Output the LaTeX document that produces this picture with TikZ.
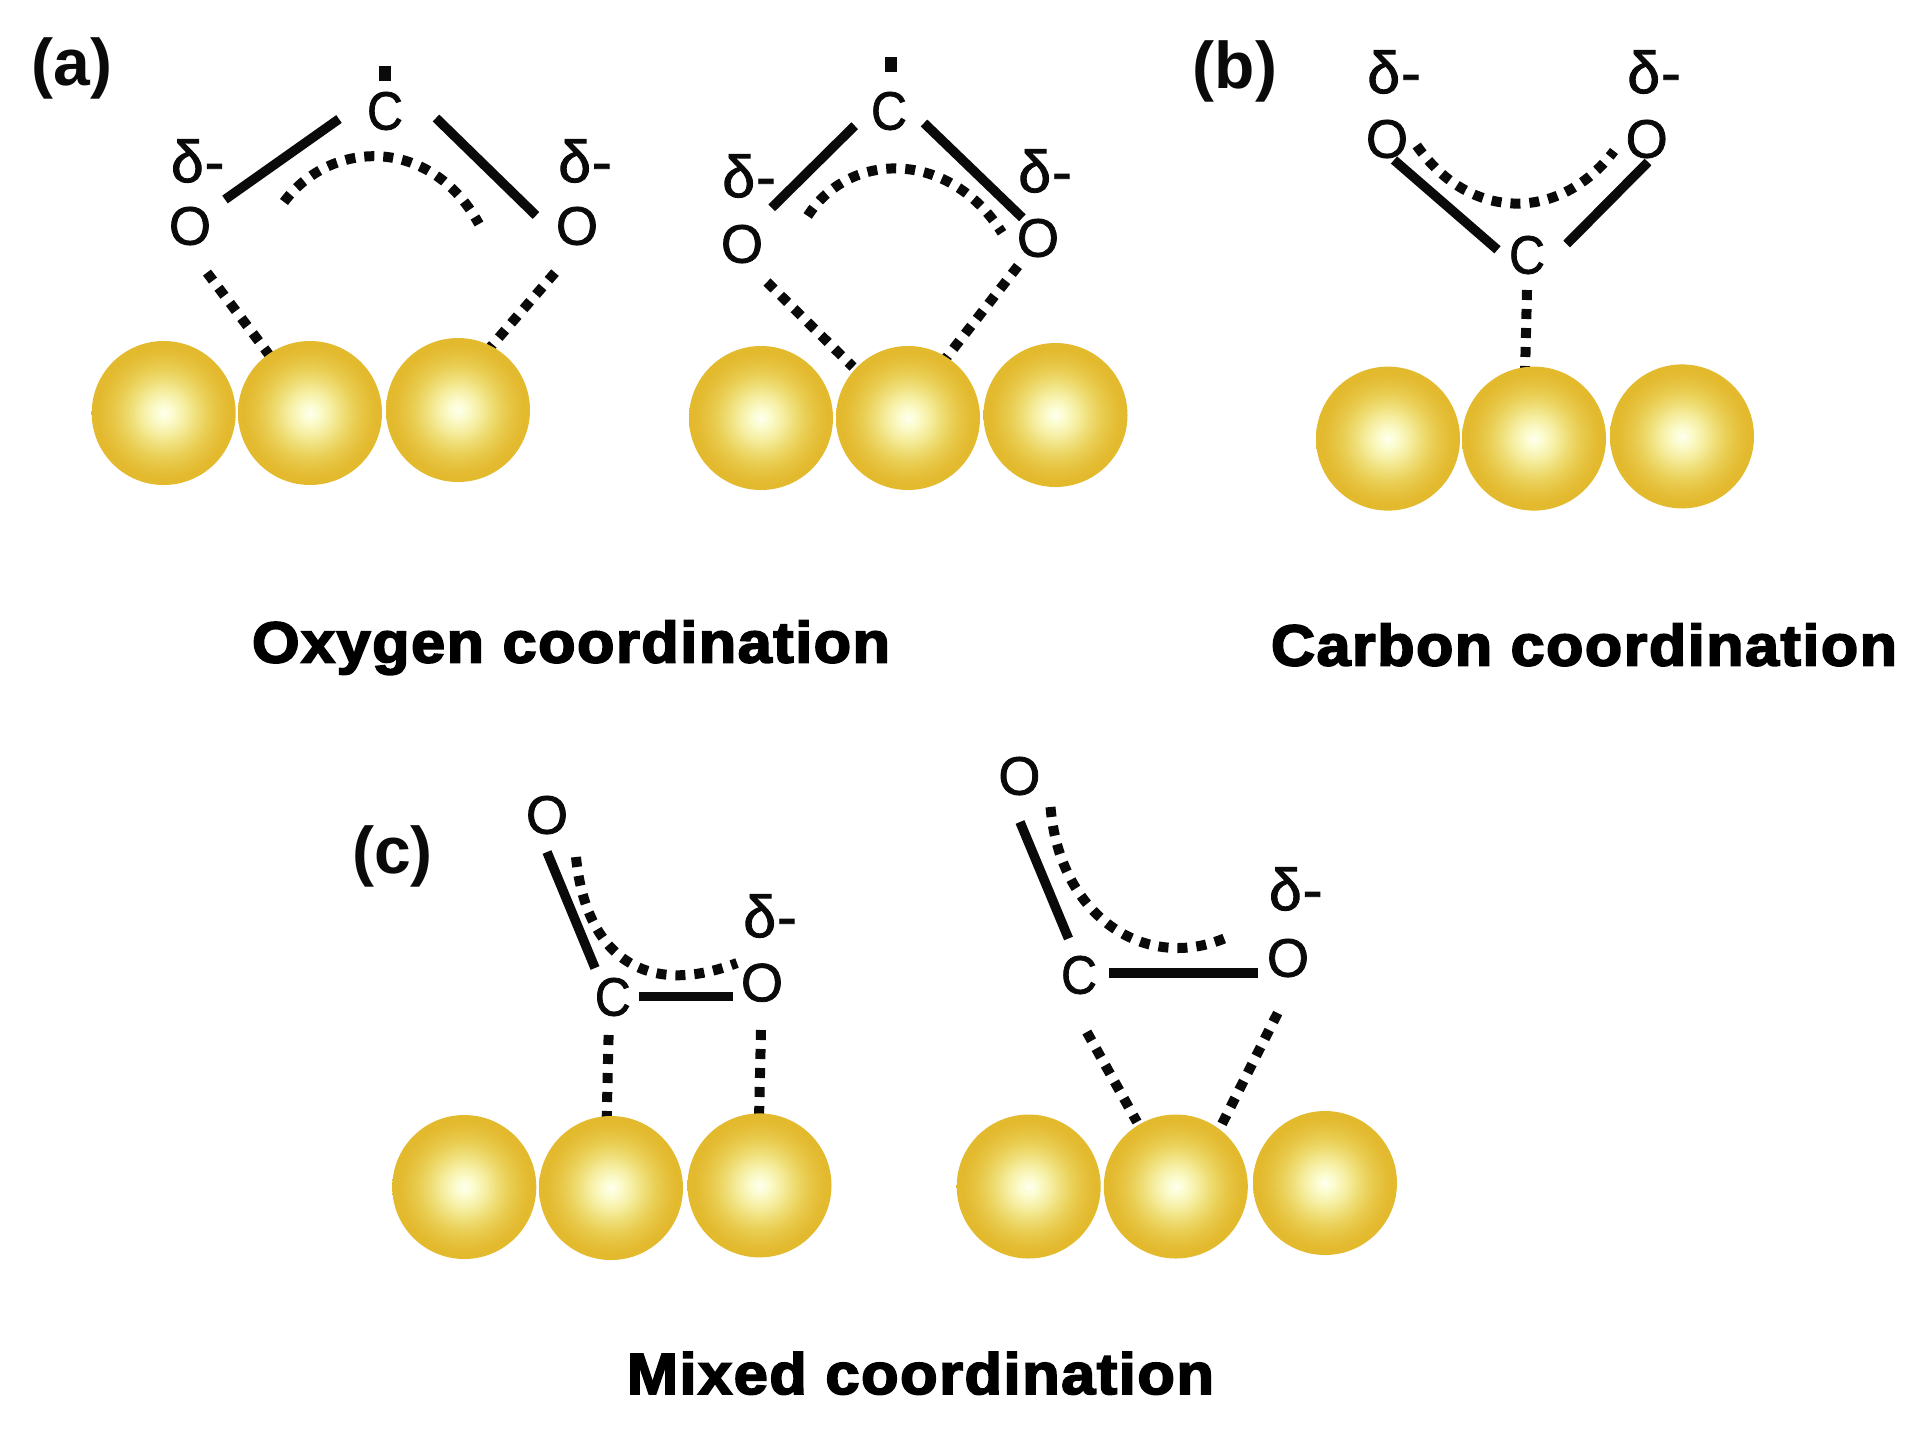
\documentclass[tikz,border=0pt]{standalone}
\usepackage{fontspec}
\setmainfont{Liberation Sans}
\newfontfamily\atomfont[RawFeature={embolden=1.5}]{Liberation Sans}
\newfontfamily\capfont[RawFeature={embolden=3},LetterSpace=2.5]{Liberation Sans}
\definecolor{inkc}{HTML}{0A0A0A}
\definecolor{goldc}{HTML}{E3B92E}
\definecolor{g0}{HTML}{FEFFEE}
\definecolor{g1}{HTML}{FBFBCB}
\definecolor{g2}{HTML}{F5EC9C}
\definecolor{g3}{HTML}{EEDC72}
\definecolor{g4}{HTML}{E9CC50}
\definecolor{g5}{HTML}{E5C03A}
\pgfdeclareradialshading{goldball}{\pgfpointorigin}{
  color(0bp)=(g0);
  color(3.5bp)=(g1);
  color(8bp)=(g2);
  color(12bp)=(g3);
  color(16bp)=(g4);
  color(20bp)=(g5);
  color(23bp)=(goldc);
  color(50bp)=(goldc)}
\tikzset{
  x=1pt,y=-1pt,
  ball/.style={circle,minimum size=144pt,inner sep=0pt,shade,shading=goldball},
  atom/.style={inner sep=0pt,text=inkc,font=\fontsize{54}{54}\selectfont\atomfont},
  catom/.style={atom,xscale=.92},
  charge/.style={inner sep=0pt,text=inkc,font=\fontsize{59}{59}\selectfont\atomfont},
  panel/.style={inner sep=0pt,text=inkc,font=\fontsize{66}{66}\selectfont\bfseries},
  caption/.style={inner sep=0pt,anchor=base,text=black,font=\fontsize{58}{58}\selectfont\capfont\bfseries},
  radical/.style={fill=inkc,inner sep=0pt,minimum width=12pt,minimum height=15pt},
  bond/.style={draw=inkc,line width=9.5pt},
  coord/.style={draw=inkc,line width=10pt,dash pattern=on 10pt off 9pt},
}
\newcommand{\dl}{δ\kern1pt-}
\begin{document}
\begin{tikzpicture}
\useasboundingbox (0,0) rectangle (1928,1428);
% ---- panel labels
\node[panel] (la) at (72,68) {(a)};
\node[panel] (lb) at (1235,71) {(b)};
\node[panel] (lc) at (392.5,856) {(c)};
% ---- captions
\node[caption] (ca) at (571,662.5) {\resizebox{638pt}{\height}{Oxygen coordination}};
\node[caption] (cb) at (1584,665.5) {\resizebox{626pt}{\height}{Carbon coordination}};
\node[caption] (cc) at (920.4,1394) {\resizebox{587pt}{\height}{Mixed coordination}};
% ---- a1
\node[catom] (a1C) at (385,111) {C};
\node[radical] (a1r) at (385,73) {};
\node[atom] (a1O) at (190,226) {O};
\node[atom] (a1P) at (577,226) {O};
\node[charge] (a1d) at (197.7,161) {\dl};
\node[charge] (a1e) at (585,161) {\dl};
\coordinate (p1) at (225,199.5); \coordinate (p2) at (339,119);
\coordinate (p3) at (436,118);   \coordinate (p4) at (536,215.5);
\coordinate (p5) at (284,202);   \coordinate (p6) at (479,224);
\coordinate (p7) at (207,272.6); \coordinate (p8) at (270,356);
\coordinate (p9) at (555,272.6); \coordinate (p10) at (488,350);
\draw[bond] (p1) -- (p2);
\draw[bond] (p3) -- (p4);
\draw[coord] (p5) .. controls (330,140) and (430,135) .. (p6);
\draw[coord] (p7) -- (p8);
\draw[coord] (p9) -- (p10);
% ---- a2
\node[catom] (a2C) at (889,111) {C};
\node[radical] (a2r) at (891,64) {};
\node[atom] (a2O) at (742,244) {O};
\node[atom] (a2P) at (1038,238) {O};
\node[charge] (a2d) at (749,176) {\dl};
\node[charge] (a2e) at (1045,171) {\dl};
\coordinate (q1) at (771.7,207.8); \coordinate (q2) at (854.7,125.7);
\coordinate (q3) at (924,123);     \coordinate (q4) at (1022.4,217.8);
\coordinate (q5) at (807.7,216);   \coordinate (q6) at (1002,232.8);
\coordinate (q7) at (767,282);     \coordinate (q8) at (853,367);
\coordinate (q9) at (1018,266);    \coordinate (q10) at (943,362);
\draw[bond] (q1) -- (q2);
\draw[bond] (q3) -- (q4);
\draw[coord] (q5) .. controls (850,150) and (950,150) .. (q6);
\draw[coord] (q7) -- (q8);
\draw[coord] (q9) -- (q10);
% ---- b
\node[catom] (bC) at (1527,255) {C};
\node[atom] (bO) at (1387,139) {O};
\node[atom] (bP) at (1646.7,139) {O};
\node[charge] (bd) at (1394,72) {\dl};
\node[charge] (be) at (1654,72) {\dl};
\coordinate (r1) at (1394,160);    \coordinate (r2) at (1497.5,249.8);
\coordinate (r3) at (1648,162);    \coordinate (r4) at (1566.7,244);
\coordinate (r5) at (1416.7,145.5); \coordinate (r6) at (1614,151);
\coordinate (r7) at (1527,290);    \coordinate (r8) at (1525,375);
\draw[bond] (r1) -- (r2);
\draw[bond] (r3) -- (r4);
\draw[coord] (r5) .. controls (1470,222) and (1560,222) .. (r6);
\draw[coord] (r7) -- (r8);
% ---- c1
\node[atom] (c1O) at (547,815) {O};
\node[catom] (c1C) at (612.8,997) {C};
\node[atom] (c1P) at (762,982.7) {O};
\node[charge] (c1d) at (770,916) {\dl};
\coordinate (s1) at (547,852);   \coordinate (s2) at (595,968);
\coordinate (s3) at (638.7,996.5); \coordinate (s4) at (733,996.5);
\coordinate (s5) at (576,857);   \coordinate (s6) at (737,963);
\coordinate (s7) at (608.6,1035); \coordinate (s8) at (606.6,1122);
\coordinate (s9) at (761,1030);  \coordinate (s10) at (759,1119);
\draw[bond] (s1) -- (s2);
\draw[bond] (s3) -- (s4);
\draw[coord] (s5) .. controls (585,950) and (640,1000) .. (s6);
\draw[coord] (s7) -- (s8);
\draw[coord] (s9) -- (s10);
% ---- c2
\node[atom] (c2O) at (1019.4,776) {O};
\node[catom] (c2C) at (1079,975) {C};
\node[atom] (c2P) at (1288,958) {O};
\node[charge] (c2d) at (1295.7,889) {\dl};
\coordinate (t1) at (1020,822);  \coordinate (t2) at (1068.5,938.5);
\coordinate (t3) at (1109,973);  \coordinate (t4) at (1257.7,973);
\coordinate (t5) at (1050.5,807); \coordinate (t6) at (1232,935);
\coordinate (t7) at (1086.8,1032); \coordinate (t8) at (1137,1122);
\coordinate (t9) at (1277.7,1013); \coordinate (t10) at (1222,1124);
\draw[bond] (t1) -- (t2);
\draw[bond] (t3) -- (t4);
\draw[coord] (t5) .. controls (1060,920) and (1150,975) .. (t6);
\draw[coord] (t7) -- (t8);
\draw[coord] (t9) -- (t10);
% ---- balls
\node[ball] (a11) at (163.7,413) {};
\node[ball] (a12) at (310,413) {};
\node[ball] (a13) at (458,410) {};
\node[ball] (a21) at (761,418) {};
\node[ball] (a22) at (908,418) {};
\node[ball] (a23) at (1055.5,415) {};
\node[ball] (b1) at (1388,438.6) {};
\node[ball] (b2) at (1534,438.6) {};
\node[ball] (b3) at (1682,436.4) {};
\node[ball] (c11) at (464.3,1187) {};
\node[ball] (c12) at (611,1188) {};
\node[ball] (c13) at (759.5,1185.4) {};
\node[ball] (c21) at (1028.7,1186.5) {};
\node[ball] (c22) at (1175.8,1186.5) {};
\node[ball] (c23) at (1325,1183) {};
\end{tikzpicture}
\end{document}
